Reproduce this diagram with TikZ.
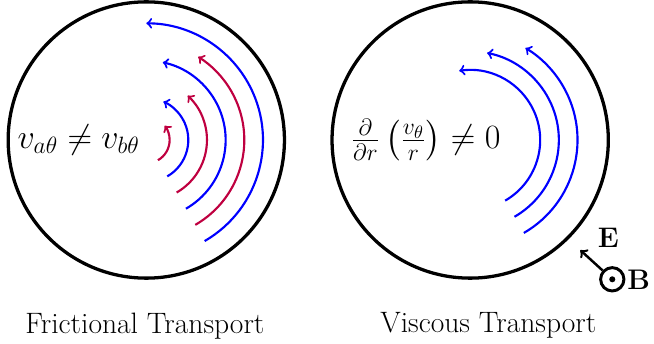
\documentclass[tikz,border=0pt]{standalone}
\usepackage{amsmath}
\begin{document}
\begin{tikzpicture}[
    rim/.style={line width=2pt},
    flowb/.style={->, blue, line width=1.3pt},
    flowr/.style={->, purple, line width=1.3pt},
    caption/.style={font=\fontsize{18}{22}\selectfont},
    formula/.style={font=\fontsize{20}{24}\selectfont},
    field/.style={font=\fontsize{18}{22}\selectfont}]
    \useasboundingbox (-3.135,-4.371) rectangle (10.879,3.0);
    % linke Scheibe: Reibung
    \coordinate (cA) at (0,0);
    \draw[rim] (cA) circle[radius=2.96];
    \draw[flowb] (-60:2.5) arc[start angle=-60, end angle=90, radius=2.5];
    \draw[flowr] (-60:2.1) arc[start angle=-60, end angle=58, radius=2.1];
    \draw[flowb] (-60:1.7) arc[start angle=-60, end angle=78, radius=1.7];
    \draw[flowr] (-60:1.3) arc[start angle=-60, end angle=47, radius=1.3];
    \draw[flowb] (-60:0.9) arc[start angle=-60, end angle=66, radius=0.9];
    \draw[flowr] (-60:0.5) arc[start angle=-60, end angle=38, radius=0.5];
    \node[formula] (vdiff) at (-1.45,0) {$v_{a\theta} \neq v_{b\theta}$};
    \node[caption] (capA) at (-0.03,-3.98) {Frictional Transport};

    % rechte Scheibe: Viskositaet
    \begin{scope}[shift={(6.94,0)}]
        \coordinate (cB) at (0,0);
        \draw[rim] (cB) circle[radius=2.96];
        \draw[flowb] (-60:1.5) arc[start angle=-60, end angle=99, radius=1.5];
        \draw[flowb] (-60:1.9) arc[start angle=-60, end angle=79, radius=1.9];
        \draw[flowb] (-60:2.3) arc[start angle=-60, end angle=59, radius=2.3];
        \node[formula, font=\fontsize{21.5}{26}\selectfont] (shear) at (-0.95,0) {$\frac{\partial}{\partial r}\left(\frac{v_\theta}{r}\right) \neq 0$};
        \node[caption] (capB) at (0.39,-3.98) {Viscous Transport};
    \end{scope}

    % Felder
    \node[circle, draw, line width=1.8pt, minimum size=0.5cm, inner sep=0pt] (bfield) at (9.985,-2.985) {};
    \fill (bfield.center) circle[radius=0.065];
    \node[field, anchor=west, inner sep=1pt] (blabel) at (bfield.east) {$\mathbf{B}$};
    \coordinate (etip) at (9.30,-2.36);
    \draw[->, line width=1.5pt] (bfield) -- (etip);
    \node[field] (elabel) at (9.90,-2.09) {$\mathbf{E}$};
\end{tikzpicture}
\end{document}
